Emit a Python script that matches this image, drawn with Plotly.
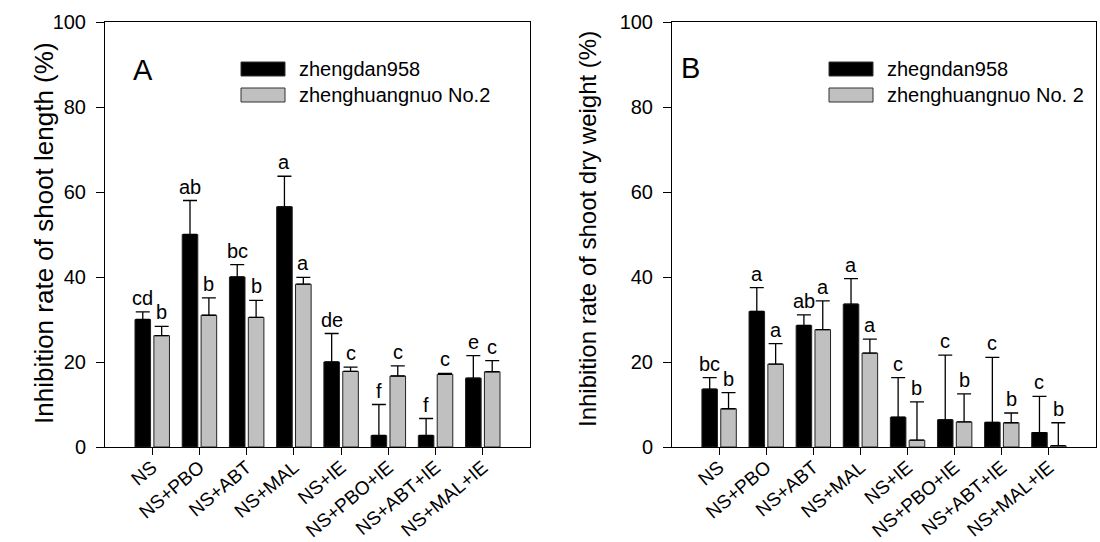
import numpy as np
import plotly.graph_objects as go

categories = ["NS", "NS+PBO", "NS+ABT", "NS+MAL", "NS+IE", "NS+PBO+IE", "NS+ABT+IE", "NS+MAL+IE"]

# Panel A: inhibition rate of shoot length (%)
a_zd958 = [30.0, 50.0, 40.0, 56.5, 20.0, 2.7, 2.7, 16.2]
a_zd958_err = [1.8, 8.0, 2.9, 7.2, 6.7, 7.3, 4.0, 5.3]
a_zhn2 = [26.2, 31.0, 30.5, 38.3, 17.8, 16.7, 17.1, 17.7]
a_zhn2_err = [2.2, 4.1, 4.0, 1.6, 1.0, 2.4, 0.2, 2.6]
a_zd958_letters = ["cd", "ab", "bc", "a", "de", "f", "f", "e"]
a_zhn2_letters = ["b", "b", "b", "a", "c", "c", "c", "c"]

# Panel B: inhibition rate of shoot dry weight (%)
b_zd958 = [13.6, 31.9, 28.6, 33.6, 7.0, 6.4, 5.8, 3.4]
b_zd958_err = [2.7, 5.6, 2.5, 6.0, 9.3, 15.2, 15.3, 8.5]
b_zhn2 = [9.0, 19.5, 27.6, 22.1, 1.6, 5.9, 5.7, 0.3]
b_zhn2_err = [3.8, 4.8, 6.8, 3.3, 9.0, 6.6, 2.3, 5.4]
b_zd958_letters = ["bc", "a", "ab", "a", "c", "c", "c", "c"]
b_zhn2_letters = ["b", "a", "a", "a", "b", "b", "b", "b"]

y_ticks = [0, 20, 40, 60, 80, 100]

FONT = "Liberation Sans, Arial, sans-serif"
BLACK = "#000000"
GREY = "#c0c0c0"
W, H = 1100, 542

x = np.arange(len(categories))
fig = go.Figure()

panels = [
    ("x", "y", a_zd958, a_zd958_err, a_zhn2, a_zhn2_err, a_zd958_letters, a_zhn2_letters),
    ("x2", "y2", b_zd958, b_zd958_err, b_zhn2, b_zhn2_err, b_zd958_letters, b_zhn2_letters),
]

for xa, ya, v1, e1, v2, e2, l1, l2 in panels:
    for vals, errs, color in [(v1, e1, BLACK), (v2, e2, GREY)]:
        fig.add_trace(go.Bar(
            x=x, y=vals, xaxis=xa, yaxis=ya,
            marker=dict(color=color, line=dict(color="#222222", width=1)),
            error_y=dict(type="data", symmetric=False, array=errs,
                         arrayminus=[0] * len(errs), color="black",
                         thickness=1.3, width=7),
            showlegend=False,
        ))
    for vals, errs, letters, off in [(v1, e1, l1, -0.2), (v2, e2, l2, 0.2)]:
        for i, (v, e, t) in enumerate(zip(vals, errs, letters)):
            fig.add_annotation(
                x=i + off, y=v + e, xref=xa, yref=ya, text=t, showarrow=False,
                yanchor="bottom", yshift=1,
                font=dict(family=FONT, size=20, color="black"),
            )

axis_common = dict(
    showline=True, linecolor="black", linewidth=1, mirror=True,
    showgrid=False, zeroline=False, ticks="outside", tickcolor="black",
    automargin=False,
)
xfont = dict(family=FONT, size=19, color="black")
yfont = dict(family=FONT, size=20, color="black")

ydom = [(H - 447) / H, (H - 22) / H]
fig.update_layout(
    width=W, height=H,
    margin=dict(l=0, r=0, t=0, b=0, autoexpand=False),
    paper_bgcolor="white", plot_bgcolor="white",
    barmode="group", bargap=0.2, bargroupgap=0.175,
    xaxis=dict(domain=[105 / W, 530 / W], range=[-1, 8], tickvals=list(x),
               ticktext=categories, tickangle=-40, ticklen=7, anchor="y",
               ticklabelstandoff=-6, tickfont=xfont, **axis_common),
    yaxis=dict(domain=ydom, range=[0, 100], tickvals=y_ticks, ticklen=8,
               ticklabelstandoff=6, anchor="x", tickfont=yfont, **axis_common),
    xaxis2=dict(domain=[672 / W, 1096 / W], range=[-1, 8], tickvals=list(x),
                ticktext=categories, tickangle=-40, ticklen=7, anchor="y2",
                ticklabelstandoff=-6, tickfont=xfont, **axis_common),
    yaxis2=dict(domain=ydom, range=[0, 100], tickvals=y_ticks, ticklen=8,
                ticklabelstandoff=6, anchor="x2", tickfont=yfont, **axis_common),
)

# Axis titles
fig.add_annotation(x=27 / W, y=1 - 233 / H, xref="paper", yref="paper",
                   text="Inhibition rate of shoot length (%)", textangle=-90,
                   showarrow=False, font=dict(family=FONT, size=26, color="black"))
fig.add_annotation(x=588 / W, y=1 - 229 / H, xref="paper", yref="paper",
                   text="Inhibition rate of shoot dry weight (%)", textangle=-90,
                   showarrow=False, font=dict(family=FONT, size=24, color="black"))

# Panel letters
fig.add_annotation(x=131 / W, y=1 - 52 / H, xref="paper", yref="paper", text="A",
                   showarrow=False, font=dict(family=FONT, size=29, color="black"))
fig.add_annotation(x=690 / W, y=1 - 50 / H, xref="paper", yref="paper", text="B",
                   showarrow=False, font=dict(family=FONT, size=29, color="black"))

# Legends (drawn as swatches + text)
legends = [
    (241, 285, 297, ["zhengdan958", "zhenghuangnuo No.2"]),
    (829, 873, 885, ["zhegndan958", "zhenghuangnuo No. 2"]),
]
for x0, x1, tx, labels in legends:
    for (y0, y1), col, lab in zip([(62, 76), (88, 102)], [BLACK, GREY], labels):
        fig.add_shape(type="rect", xref="paper", yref="paper",
                      x0=x0 / W, x1=x1 / W, y0=1 - y1 / H, y1=1 - y0 / H,
                      fillcolor=col, line=dict(color="#333333", width=1))
        fig.add_annotation(x=tx / W, y=1 - (y0 + y1) / 2 / H, xref="paper", yref="paper",
                           text=lab, showarrow=False, xanchor="left", yanchor="middle",
                           font=dict(family=FONT, size=20, color="black"))

fig.write_html("out.html")
